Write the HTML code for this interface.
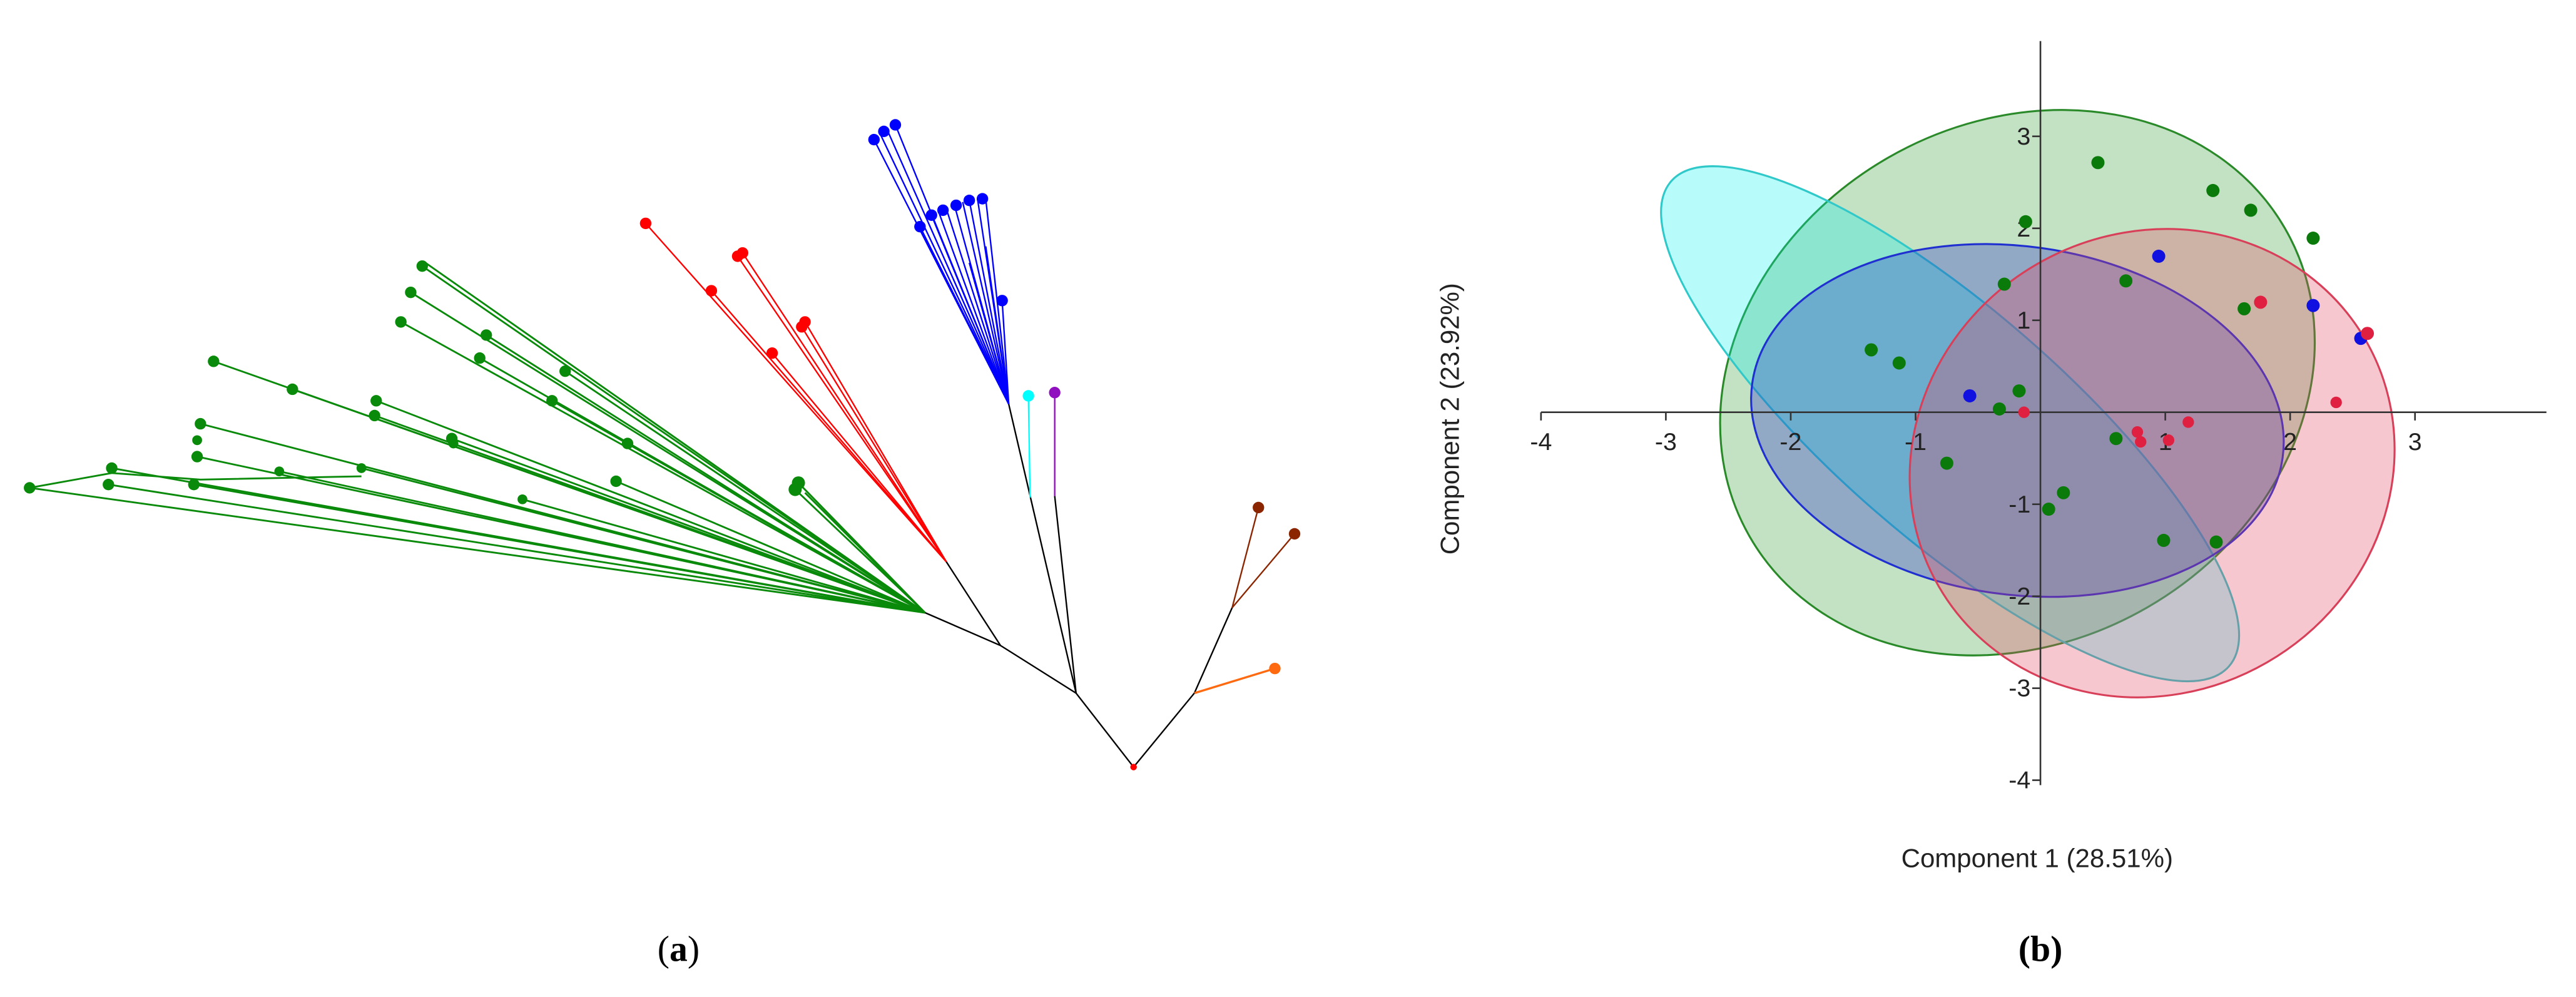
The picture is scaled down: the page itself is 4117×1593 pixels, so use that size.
<!DOCTYPE html>
<html><head><meta charset="utf-8"><style>html,body{margin:0;padding:0;background:#fff}svg{display:block}</style></head>
<body>
<svg width="4117" height="1593" viewBox="0 0 1568 607" preserveAspectRatio="none" xmlns="http://www.w3.org/2000/svg">
<rect width="1568" height="607" fill="#fff"/>
<!-- Panel a -->
<g stroke-width="0.9" fill="none">
<g stroke="#000">
<polyline points="690,467 655,422 609,393 563,373"/>
<line x1="609" y1="393" x2="576" y2="342"/>
<line x1="655" y1="422" x2="614" y2="246"/>
<line x1="655" y1="422" x2="642" y2="302"/>
<polyline points="690,467 727,422 750,370"/>
</g>
<g stroke="#0a8a0a" stroke-width="1.1">
<line x1="563" y1="373" x2="257" y2="162"/><line x1="563" y1="373" x2="259" y2="160"/>
<line x1="563" y1="373" x2="250" y2="178"/><line x1="563" y1="373" x2="244" y2="196"/>
<line x1="563" y1="373" x2="130" y2="220"/><line x1="563" y1="373" x2="178" y2="237"/>
<line x1="563" y1="373" x2="229" y2="244"/><line x1="563" y1="373" x2="228" y2="253"/>
<line x1="563" y1="373" x2="122" y2="258"/><line x1="563" y1="373" x2="120" y2="278"/>
<line x1="563" y1="373" x2="68" y2="285"/><line x1="563" y1="373" x2="66" y2="295"/>
<line x1="563" y1="373" x2="18" y2="297"/><line x1="563" y1="373" x2="118" y2="295"/>
<line x1="563" y1="373" x2="170" y2="287"/><line x1="563" y1="373" x2="220" y2="285"/>
<line x1="563" y1="373" x2="296" y2="204"/><line x1="563" y1="373" x2="292" y2="218"/>
<line x1="563" y1="373" x2="336" y2="244"/><line x1="563" y1="373" x2="344" y2="226"/>
<line x1="563" y1="373" x2="275" y2="267"/><line x1="563" y1="373" x2="382" y2="270"/>
<line x1="563" y1="373" x2="375" y2="293"/><line x1="563" y1="373" x2="318" y2="304"/>
<line x1="563" y1="373" x2="486" y2="294"/><line x1="563" y1="373" x2="484" y2="298"/>
<line x1="563" y1="373" x2="490" y2="300"/>
<polyline points="18,297 68,288 122,292 220,290"/>
</g>
<g stroke="#f00">
<line x1="576" y1="342" x2="393" y2="136"/><line x1="576" y1="342" x2="449" y2="156"/>
<line x1="576" y1="342" x2="452" y2="154"/><line x1="576" y1="342" x2="433" y2="177"/>
<line x1="576" y1="342" x2="490" y2="196"/><line x1="576" y1="342" x2="488" y2="199"/>
<line x1="576" y1="342" x2="470" y2="215"/>
</g>
<g stroke="#00f">
<line x1="614" y1="246" x2="532" y2="85"/><line x1="614" y1="246" x2="536" y2="82"/>
<line x1="614" y1="246" x2="540" y2="79"/><line x1="614" y1="246" x2="545" y2="76"/>
<line x1="614" y1="246" x2="560" y2="138"/><line x1="614" y1="246" x2="567" y2="131"/>
<line x1="614" y1="246" x2="571" y2="128"/><line x1="614" y1="246" x2="576" y2="127"/>
<line x1="614" y1="246" x2="581" y2="125"/><line x1="614" y1="246" x2="586" y2="123"/>
<line x1="614" y1="246" x2="590" y2="122"/><line x1="614" y1="246" x2="595" y2="121"/>
<line x1="614" y1="246" x2="600" y2="121"/><line x1="614" y1="246" x2="610" y2="183"/>
<line x1="614" y1="246" x2="600" y2="150"/><line x1="614" y1="246" x2="590" y2="160"/>
</g>
<line x1="626" y1="241" x2="627" y2="303" stroke="#0ff"/>
<line x1="642" y1="239" x2="642" y2="302" stroke="#9010c0"/>
<line x1="750" y1="370" x2="766" y2="309" stroke="#8b2500"/>
<line x1="750" y1="370" x2="788" y2="325" stroke="#8b2500"/>
<line x1="727" y1="422" x2="776" y2="407" stroke="#ff6a10" stroke-width="1.3"/>
</g>
<g fill="#0a8a0a">
<circle cx="257" cy="162" r="3.5"/><circle cx="250" cy="178" r="3.5"/><circle cx="244" cy="196" r="3.5"/>
<circle cx="130" cy="220" r="3.5"/><circle cx="178" cy="237" r="3.5"/><circle cx="229" cy="244" r="3.5"/>
<circle cx="228" cy="253" r="3.5"/><circle cx="122" cy="258" r="3.5"/><circle cx="120" cy="278" r="3.5"/>
<circle cx="68" cy="285" r="3.5"/><circle cx="66" cy="295" r="3.5"/><circle cx="18" cy="297" r="3.5"/>
<circle cx="118" cy="295" r="3.5"/><circle cx="170" cy="287" r="3"/><circle cx="220" cy="285" r="3"/>
<circle cx="296" cy="204" r="3.5"/><circle cx="292" cy="218" r="3.5"/><circle cx="336" cy="244" r="3.5"/>
<circle cx="344" cy="226" r="3.5"/><circle cx="275" cy="267" r="3.5"/><circle cx="382" cy="270" r="3.5"/>
<circle cx="375" cy="293" r="3.5"/><circle cx="318" cy="304" r="3"/><circle cx="486" cy="294" r="4"/>
<circle cx="484" cy="298" r="4"/><circle cx="276" cy="270" r="3"/><circle cx="120" cy="268" r="3"/>
</g>
<g fill="#f00">
<circle cx="393" cy="136" r="3.5"/><circle cx="449" cy="156" r="3.5"/><circle cx="452" cy="154" r="3.5"/>
<circle cx="433" cy="177" r="3.5"/><circle cx="490" cy="196" r="3.5"/><circle cx="488" cy="199" r="3.5"/>
<circle cx="470" cy="215" r="3.5"/><circle cx="690" cy="467" r="2"/>
</g>
<g fill="#00f">
<circle cx="532" cy="85" r="3.5"/><circle cx="538" cy="80" r="3.5"/><circle cx="545" cy="76" r="3.5"/>
<circle cx="560" cy="138" r="3.5"/><circle cx="567" cy="131" r="3.5"/><circle cx="574" cy="128" r="3.5"/>
<circle cx="582" cy="125" r="3.5"/><circle cx="590" cy="122" r="3.5"/><circle cx="598" cy="121" r="3.5"/>
<circle cx="610" cy="183" r="3.5"/>
</g>
<circle cx="626" cy="241" r="3.5" fill="#0ff"/>
<circle cx="642" cy="239" r="3.5" fill="#9010c0"/>
<circle cx="766" cy="309" r="3.5" fill="#8b2500"/>
<circle cx="788" cy="325" r="3.5" fill="#8b2500"/>
<circle cx="776" cy="407" r="3.5" fill="#ff6a10"/>
<text x="413" y="585" font-family="Liberation Serif, serif" font-size="22" text-anchor="middle">(<tspan font-weight="bold">a</tspan>)</text>

<!-- Panel b -->
<ellipse cx="1228" cy="233" rx="188" ry="158" transform="rotate(-30 1228 233)" fill="rgba(40,150,40,0.28)" stroke="#2a8a2a" stroke-width="1.2"/>
<ellipse cx="1187" cy="258" rx="225" ry="70" transform="rotate(41 1187 258)" fill="rgba(0,240,240,0.28)" stroke="#30c8c8" stroke-width="1.2"/>
<ellipse cx="1228" cy="256" rx="163" ry="106" transform="rotate(8 1228 256)" fill="rgba(40,50,200,0.32)" stroke="#2030d0" stroke-width="1.2"/>
<ellipse cx="1310" cy="282" rx="150" ry="140" transform="rotate(-30 1310 282)" fill="rgba(230,70,100,0.3)" stroke="#d8405a" stroke-width="1.2"/>
<g stroke="#333" stroke-width="1">
<line x1="938" y1="251" x2="1550" y2="251"/>
<line x1="1242" y1="25" x2="1242" y2="478"/>
<line x1="938" y1="251" x2="938" y2="256"/><line x1="1014" y1="251" x2="1014" y2="256"/>
<line x1="1090" y1="251" x2="1090" y2="256"/><line x1="1166" y1="251" x2="1166" y2="256"/>
<line x1="1318" y1="251" x2="1318" y2="256"/><line x1="1394" y1="251" x2="1394" y2="256"/>
<line x1="1470" y1="251" x2="1470" y2="256"/>
<line x1="1237" y1="83" x2="1242" y2="83"/><line x1="1237" y1="139" x2="1242" y2="139"/>
<line x1="1237" y1="195" x2="1242" y2="195"/><line x1="1237" y1="307" x2="1242" y2="307"/>
<line x1="1237" y1="363" x2="1242" y2="363"/><line x1="1237" y1="419" x2="1242" y2="419"/>
<line x1="1237" y1="475" x2="1242" y2="475"/>
</g>
<g font-family="Liberation Sans, sans-serif" font-size="15" fill="#222">
<text x="938" y="274" text-anchor="middle">-4</text><text x="1014" y="274" text-anchor="middle">-3</text>
<text x="1090" y="274" text-anchor="middle">-2</text><text x="1166" y="274" text-anchor="middle">-1</text>
<text x="1318" y="274" text-anchor="middle">1</text><text x="1394" y="274" text-anchor="middle">2</text>
<text x="1470" y="274" text-anchor="middle">3</text>
<g text-anchor="end"><text x="1236" y="88">3</text><text x="1236" y="144">2</text><text x="1236" y="200">1</text>
<text x="1236" y="312">-1</text><text x="1236" y="368">-2</text><text x="1236" y="424">-3</text><text x="1236" y="480">-4</text></g>
<text x="1240" y="528" text-anchor="middle" font-size="16">Component 1 (28.51%)</text>
<text transform="translate(888,255) rotate(-90)" text-anchor="middle" font-size="16">Component 2 (23.92%)</text>
</g>
<g fill="#0a7a0a">
<circle cx="1277" cy="99" r="4"/><circle cx="1347" cy="116" r="4"/><circle cx="1370" cy="128" r="4"/>
<circle cx="1233" cy="135" r="4"/><circle cx="1408" cy="145" r="4"/><circle cx="1294" cy="171" r="4"/>
<circle cx="1220" cy="173" r="4"/><circle cx="1366" cy="188" r="4"/><circle cx="1139" cy="213" r="4"/>
<circle cx="1156" cy="221" r="4"/><circle cx="1229" cy="238" r="4"/><circle cx="1217" cy="249" r="4"/>
<circle cx="1288" cy="267" r="4"/><circle cx="1185" cy="282" r="4"/><circle cx="1256" cy="300" r="4"/>
<circle cx="1247" cy="310" r="4"/><circle cx="1317" cy="329" r="4"/><circle cx="1349" cy="330" r="4"/>
</g>
<g fill="#1010e0"><circle cx="1314" cy="156" r="4"/><circle cx="1408" cy="186" r="4"/><circle cx="1437" cy="206" r="4"/><circle cx="1199" cy="241" r="4"/></g>
<g fill="#e02040"><circle cx="1376" cy="184" r="4"/><circle cx="1441" cy="203" r="4"/><circle cx="1422" cy="245" r="3.5"/>
<circle cx="1232" cy="251" r="3.5"/><circle cx="1332" cy="257" r="3.5"/><circle cx="1301" cy="263" r="3.5"/>
<circle cx="1303" cy="269" r="3.5"/><circle cx="1320" cy="268" r="3.5"/></g>
<text x="1242" y="585" font-family="Liberation Serif, serif" font-size="22" font-weight="bold" text-anchor="middle">(b)</text>
</svg>
</body></html>
